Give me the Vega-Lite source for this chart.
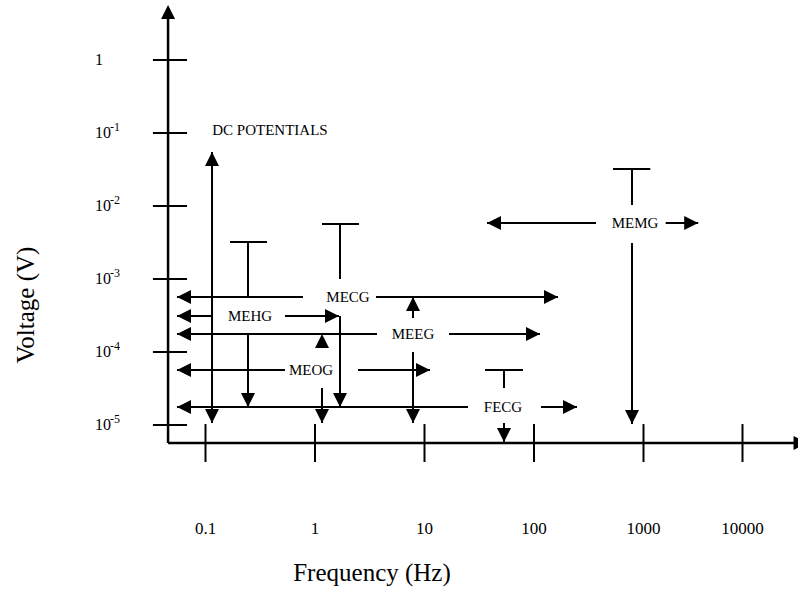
{
  "$schema": "https://vega.github.io/schema/vega-lite/v6.json",
  "width": 798,
  "height": 592,
  "autosize": {"type": "none"},
  "padding": 0,
  "background": "white",
  "config": {
    "view": {"stroke": null},
    "text": {"font": "Liberation Serif", "color": "black"}
  },
  "datasets": {
    "axes": [
      {"f": 0.0455, "v": 5.67e-6, "f2": 0.0455, "v2": 5.0},
      {"f": 0.0455, "v": 5.67e-6, "f2": 40000, "v2": 5.67e-6}
    ],
    "ticks": [
      {"f": 0.0331, "v": 1, "f2": 0.0678, "v2": 1},
      {"f": 0.0331, "v": 0.1, "f2": 0.0678, "v2": 0.1},
      {"f": 0.0331, "v": 0.01, "f2": 0.0678, "v2": 0.01},
      {"f": 0.0331, "v": 0.001, "f2": 0.0678, "v2": 0.001},
      {"f": 0.0331, "v": 0.0001, "f2": 0.0678, "v2": 0.0001},
      {"f": 0.0331, "v": 0.00001, "f2": 0.0678, "v2": 0.00001},
      {"f": 0.1, "v": 3.11e-6, "f2": 0.1, "v2": 1.03e-5},
      {"f": 1, "v": 3.11e-6, "f2": 1, "v2": 1.03e-5},
      {"f": 10, "v": 3.11e-6, "f2": 10, "v2": 1.03e-5},
      {"f": 100, "v": 3.11e-6, "f2": 100, "v2": 1.03e-5},
      {"f": 1000, "v": 3.11e-6, "f2": 1000, "v2": 1.03e-5},
      {"f": 10000, "v": 3.11e-6, "f2": 10000, "v2": 1.03e-5}
    ],
    "ranges": [
      {"f": 0.1147, "v": 0.0549, "f2": 0.1147, "v2": 1.065e-5},
      {"f": 0.0549, "v": 5.67e-4, "f2": 0.777, "v2": 5.67e-4},
      {"f": 3.607, "v": 5.67e-4, "f2": 165.7, "v2": 5.67e-4},
      {"f": 1.158, "v": 5.67e-3, "f2": 2.522, "v2": 5.67e-3},
      {"f": 1.692, "v": 5.67e-3, "f2": 1.692, "v2": 1.0e-3},
      {"f": 1.692, "v": 3.11e-4, "f2": 1.692, "v2": 1.765e-5},
      {"f": 0.0549, "v": 3.11e-4, "f2": 0.1147, "v2": 3.11e-4},
      {"f": 0.532, "v": 3.11e-4, "f2": 1.656, "v2": 3.11e-4},
      {"f": 0.1674, "v": 3.21e-3, "f2": 0.3643, "v2": 3.21e-3},
      {"f": 0.2444, "v": 3.21e-3, "f2": 0.2444, "v2": 5.67e-4},
      {"f": 0.2444, "v": 1.765e-4, "f2": 0.2444, "v2": 1.765e-5},
      {"f": 0.0549, "v": 1.765e-4, "f2": 3.684, "v2": 1.765e-4},
      {"f": 16.74, "v": 1.765e-4, "f2": 113.4, "v2": 1.765e-4},
      {"f": 7.852, "v": 5.67e-4, "f2": 7.852, "v2": 2.92e-4},
      {"f": 7.852, "v": 1.0e-4, "f2": 7.852, "v2": 1.065e-5},
      {"f": 0.0549, "v": 5.67e-5, "f2": 0.532, "v2": 5.67e-5},
      {"f": 2.47, "v": 5.67e-5, "f2": 11.23, "v2": 5.67e-5},
      {"f": 1.158, "v": 3.21e-5, "f2": 1.158, "v2": 1.065e-5},
      {"f": 0.0549, "v": 1.765e-5, "f2": 24.96, "v2": 1.765e-5},
      {"f": 115.8, "v": 1.765e-5, "f2": 247, "v2": 1.765e-5},
      {"f": 35.69, "v": 5.67e-5, "f2": 79.35, "v2": 5.67e-5},
      {"f": 53.2, "v": 5.67e-5, "f2": 53.2, "v2": 3.21e-5},
      {"f": 53.2, "v": 1.065e-5, "f2": 53.2, "v2": 5.85e-6},
      {"f": 37.23, "v": 5.85e-3, "f2": 368.4, "v2": 5.85e-3},
      {"f": 1674, "v": 5.85e-3, "f2": 3569, "v2": 5.85e-3},
      {"f": 526.6, "v": 0.0321, "f2": 1171, "v2": 0.0321},
      {"f": 785, "v": 0.0321, "f2": 785, "v2": 0.01032},
      {"f": 785, "v": 3.11e-3, "f2": 785, "v2": 1.032e-5}
    ],
    "heads": [
      {"f": 0.0455, "v": 5.67, "dir": "up"},
      {"f": 45400, "v": 5.67e-6, "dir": "right"},
      {"f": 0.1147, "v": 0.0549, "dir": "up"},
      {"f": 0.1147, "v": 1.065e-5, "dir": "down"},
      {"f": 0.0549, "v": 5.67e-4, "dir": "left"},
      {"f": 165.7, "v": 5.67e-4, "dir": "right"},
      {"f": 0.0549, "v": 3.11e-4, "dir": "left"},
      {"f": 1.656, "v": 3.11e-4, "dir": "right"},
      {"f": 0.0549, "v": 1.765e-4, "dir": "left"},
      {"f": 113.4, "v": 1.765e-4, "dir": "right"},
      {"f": 0.0549, "v": 5.67e-5, "dir": "left"},
      {"f": 11.23, "v": 5.67e-5, "dir": "right"},
      {"f": 0.0549, "v": 1.765e-5, "dir": "left"},
      {"f": 247, "v": 1.765e-5, "dir": "right"},
      {"f": 37.23, "v": 5.85e-3, "dir": "left"},
      {"f": 3569, "v": 5.85e-3, "dir": "right"},
      {"f": 0.2444, "v": 1.765e-5, "dir": "down"},
      {"f": 1.692, "v": 1.765e-5, "dir": "down"},
      {"f": 7.852, "v": 5.67e-4, "dir": "up"},
      {"f": 7.852, "v": 1.065e-5, "dir": "down"},
      {"f": 1.158, "v": 1.765e-4, "dir": "up"},
      {"f": 1.158, "v": 1.065e-5, "dir": "down"},
      {"f": 53.2, "v": 5.85e-6, "dir": "down"},
      {"f": 785, "v": 1.032e-5, "dir": "down"}
    ],
    "names": [
      {"label": "DC POTENTIALS", "f": 0.388, "v": 0.11},
      {"label": "MECG", "f": 2.0, "v": 5.67e-4},
      {"label": "MEHG", "f": 0.255, "v": 3.11e-4},
      {"label": "MEEG", "f": 7.85, "v": 1.765e-4},
      {"label": "MEOG", "f": 0.919, "v": 5.67e-5},
      {"label": "FECG", "f": 52.1, "v": 1.765e-5},
      {"label": "MEMG", "f": 836, "v": 5.85e-3}
    ],
    "freqLabels": [
      {"label": "0.1", "f": 0.1, "v": 3.8e-7},
      {"label": "1", "f": 1, "v": 3.8e-7},
      {"label": "10", "f": 10, "v": 3.8e-7},
      {"label": "100", "f": 100, "v": 3.8e-7},
      {"label": "1000", "f": 1000, "v": 3.8e-7},
      {"label": "10000", "f": 10000, "v": 3.8e-7}
    ],
    "voltLabels": [
      {"base": "1", "f": 0.0098, "v": 1},
      {"base": "10", "f": 0.0098, "v": 0.1},
      {"base": "10", "f": 0.0098, "v": 0.01},
      {"base": "10", "f": 0.0098, "v": 0.001},
      {"base": "10", "f": 0.0098, "v": 0.0001},
      {"base": "10", "f": 0.0098, "v": 0.00001}
    ],
    "voltExponents": [
      {"exp": "-1", "f": 0.01342, "v": 0.1},
      {"exp": "-2", "f": 0.01342, "v": 0.01},
      {"exp": "-3", "f": 0.01342, "v": 0.001},
      {"exp": "-4", "f": 0.01342, "v": 0.0001},
      {"exp": "-5", "f": 0.01342, "v": 0.00001}
    ],
    "titles": [
      {"title": "Voltage (V)", "f": 0.0023, "v": 4.4e-4, "vertical": true},
      {"title": "Frequency (Hz)", "f": 3.315, "v": 9.4e-8, "vertical": false}
    ]
  },
  "encoding": {
    "x": {
      "field": "f",
      "type": "quantitative",
      "axis": null,
      "scale": {"type": "log", "domain": [0.01, 1000, 10000], "range": [96, 643.5, 742.5], "nice": false}
    },
    "y": {
      "field": "v",
      "type": "quantitative",
      "axis": null,
      "scale": {"type": "log", "domain": [1e-6, 10], "range": [498, -13], "nice": false}
    }
  },
  "layer": [
    {
      "data": {"name": "axes"},
      "mark": {"type": "rule", "color": "black", "strokeWidth": 2.5},
      "encoding": {"x2": {"field": "f2"}, "y2": {"field": "v2"}}
    },
    {
      "data": {"name": "ticks"},
      "mark": {"type": "rule", "color": "black", "strokeWidth": 2},
      "encoding": {"x2": {"field": "f2"}, "y2": {"field": "v2"}}
    },
    {
      "data": {"name": "ranges"},
      "mark": {"type": "rule", "color": "black", "strokeWidth": 2},
      "encoding": {"x2": {"field": "f2"}, "y2": {"field": "v2"}}
    },
    {
      "data": {"name": "heads"},
      "mark": {"type": "point", "filled": true, "color": "black", "opacity": 1, "size": 196, "strokeWidth": 0},
      "encoding": {
        "shape": {
          "field": "dir",
          "type": "nominal",
          "legend": null,
          "scale": {
            "domain": ["up", "down", "left", "right"],
            "range": ["M0,0L-1,2L1,2Z", "M0,0L-1,-2L1,-2Z", "M0,0L2,-1L2,1Z", "M0,0L-2,-1L-2,1Z"]
          }
        }
      }
    },
    {
      "data": {"name": "names"},
      "mark": {"type": "text", "fontSize": 15, "align": "center", "baseline": "middle"},
      "encoding": {"text": {"field": "label"}}
    },
    {
      "data": {"name": "freqLabels"},
      "mark": {"type": "text", "fontSize": 17, "align": "center", "baseline": "middle"},
      "encoding": {"text": {"field": "label"}}
    },
    {
      "data": {"name": "voltLabels"},
      "mark": {"type": "text", "fontSize": 16, "align": "left", "baseline": "middle"},
      "encoding": {"text": {"field": "base"}}
    },
    {
      "data": {"name": "voltExponents"},
      "mark": {"type": "text", "fontSize": 12, "align": "left", "baseline": "middle", "dy": -6},
      "encoding": {"text": {"field": "exp"}}
    },
    {
      "data": {"name": "titles"},
      "transform": [{"filter": "datum.vertical"}],
      "mark": {"type": "text", "fontSize": 25, "angle": 270, "align": "center", "baseline": "middle"},
      "encoding": {"text": {"field": "title"}}
    },
    {
      "data": {"name": "titles"},
      "transform": [{"filter": "!datum.vertical"}],
      "mark": {"type": "text", "fontSize": 25, "align": "center", "baseline": "middle"},
      "encoding": {"text": {"field": "title"}}
    }
  ]
}
